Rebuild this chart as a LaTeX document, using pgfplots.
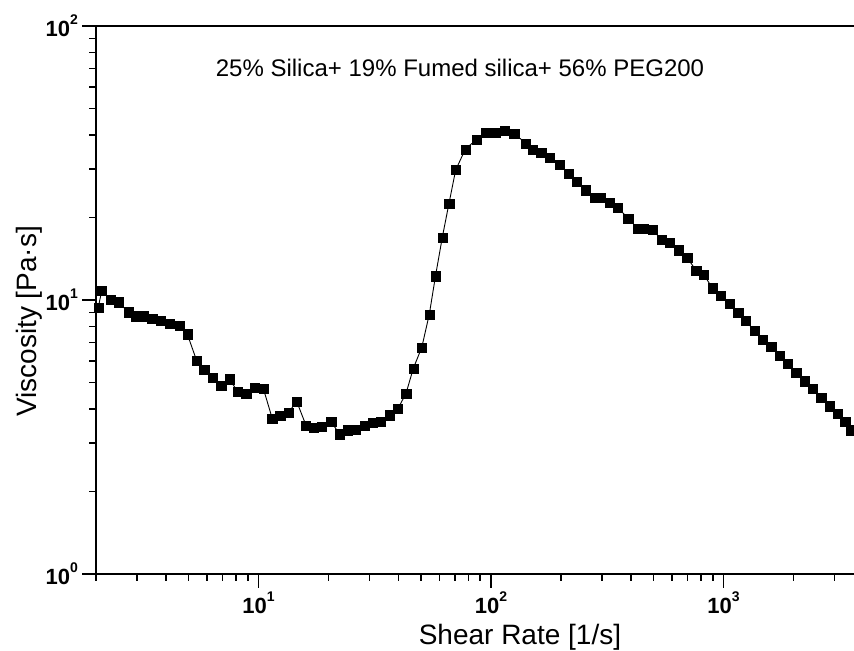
\documentclass[border=0pt]{standalone}
\usepackage{fontspec}
\setmainfont{Liberation Sans}
\usepackage{pgfplots}
\pgfplotsset{compat=1.18}
\newcommand{\pow}[1]{\textbf{10}\raisebox{12bp}{\fontsize{14bp}{14bp}\selectfont\textbf{#1}}}
\begin{document}
\begin{tikzpicture}
\begin{axis}[
  at={(0,0)}, anchor=south west,
  scale only axis, width=762bp, height=548bp,
  xmode=log, ymode=log, log basis x=10, log basis y=10,
  xmin=2, xmax=3788, ymin=1, ymax=100,
  xtick={10,100,1000}, xticklabels={\pow{1},\pow{2},\pow{3}},
  ytick={1,10,100}, yticklabels={\pow{0},\pow{1},\pow{2}},
  minor xtick={2,3,4,5,6,7,8,9,20,30,40,50,60,70,80,90,200,300,400,500,600,700,800,900,2000,3000},
  minor ytick={2,3,4,5,6,7,8,9,20,30,40,50,60,70,80,90},
  tick align=outside, xtick pos=bottom, ytick pos=left,
  major tick length=14bp, minor tick length=7bp,
  axis line style={line width=1.6bp},
  tick style={line width=1.8bp, black},
  /tikz/line width=1.8bp,
  tick label style={font=\fontsize{22bp}{22bp}\selectfont},
  xlabel={Shear Rate [1/s]}, ylabel={Viscosity [Pa·s]},
  label style={font=\fontsize{28bp}{28bp}\selectfont},
  xlabel style={at={(axis description cs:0.5564,0)}, anchor=base, yshift=-70bp},
  ylabel style={at={(axis description cs:-0.0787,0.4608)}, anchor=base},
  clip=false,
]
\addplot[black, line width=0.9bp, mark=square*, mark size=4.6bp, mark options={fill=black, draw=black, line width=0.2bp}] coordinates {
(2.046,9.40) (2.116,10.81) (2.313,10.00) (2.494,9.83) (2.754,9.04) (2.964,8.74)
(3.194,8.74) (3.483,8.55) (3.796,8.40) (4.134,8.22) (4.563,8.08) (4.939,7.51)
(5.422,6.00) (5.829,5.59) (6.353,5.22) (6.897,4.86) (7.486,5.14) (8.138,4.64)
(8.835,4.54) (9.592,4.80) (10.49,4.75) (11.45,3.70) (12.37,3.79) (13.43,3.88)
(14.60,4.26) (16.00,3.49) (17.27,3.42) (18.66,3.46) (20.51,3.61) (22.26,3.24)
(24.14,3.35) (26.21,3.36) (28.49,3.48) (30.98,3.56) (33.57,3.61) (36.52,3.80)
(39.80,4.02) (43.09,4.56) (46.31,5.63) (50.35,6.71) (54.27,8.87) (57.70,12.23)
(61.73,16.94) (65.96,22.54) (70.48,29.82) (77.51,35.51) (86.79,38.60) (95.15,40.79)
(104.5,40.79) (114.0,41.38) (125.6,40.58) (141.0,37.32) (151.1,35.48) (164.1,34.48)
(178.1,33.18) (196.7,31.10) (215.0,29.00) (233.6,27.02) (254.4,25.20) (278.2,23.71)
(296.4,23.71) (322.8,22.66) (350.7,21.79) (388.4,19.87) (426.6,18.27) (450.6,18.20)
(494.0,18.01) (541.2,16.63) (584.8,16.19) (639.2,15.22) (696.6,14.29) (761.6,12.83)
(821.9,12.39) (895.0,11.06) (973.6,10.37) (1058,9.67) (1154,8.99) (1249,8.40)
(1357,7.71) (1475,7.19) (1601,6.74) (1738,6.27) (1888,5.85) (2051,5.44)
(2226,5.06) (2419,4.74) (2626,4.41) (2851,4.10) (3087,3.84) (3332,3.59) (3517,3.35)
};
\node[anchor=base, font=\fontsize{24bp}{24bp}\selectfont] at (rel axis cs:0.4777,0.907) {25\% Silica+ 19\% Fumed silica+ 56\% PEG200};
\end{axis}
\pgfresetboundingbox
\path[use as bounding box] (-96bp,-77bp) rectangle (758bp,574bp);
\end{tikzpicture}
\end{document}
